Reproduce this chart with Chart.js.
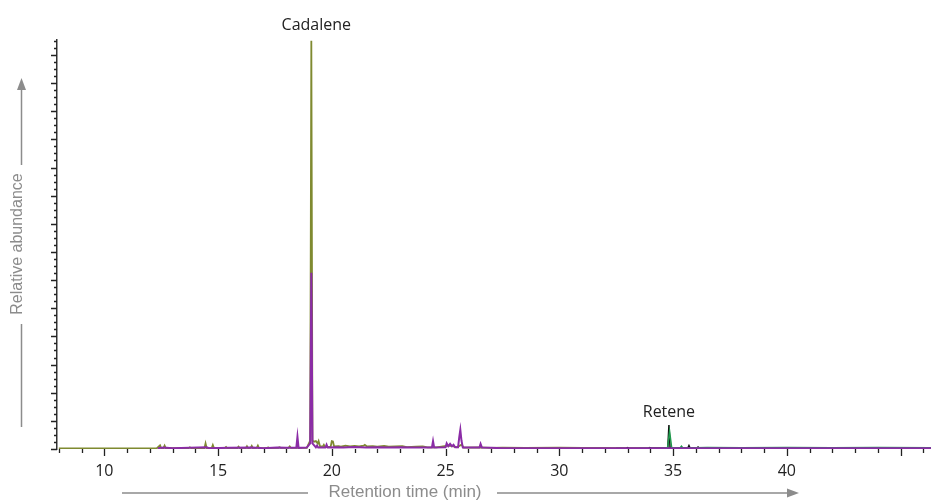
<!DOCTYPE html>
<html>
<head>
<meta charset="utf-8">
<script src="https://cdn.jsdelivr.net/npm/chart.js@4.4.1/dist/chart.umd.min.js"></script>
<style>
  body { margin: 0; background: #fff; }
</style>
</head>
<body>
<canvas id="chrom" width="931" height="500"></canvas>
<script>
// retention time (min) / relative abundance
const oliveTimes = [8.0, 12.3, 12.45, 12.5, 12.6, 12.65, 12.7, 13.7, 13.76, 13.82, 14.4, 14.45, 14.5, 14.72, 14.77, 14.82,
  15.3, 15.35, 15.4, 15.85, 15.9, 15.95, 16.22, 16.27, 16.32, 16.43, 16.48, 16.53, 16.7, 16.75, 16.8, 17.15, 17.2, 17.25,
  17.65, 17.7, 17.75, 18.1, 18.15, 18.2, 18.9, 19.05, 19.1, 19.15, 19.22, 19.3, 19.38, 19.42, 19.48, 19.6, 19.65, 19.7,
  19.95, 20.0, 20.05, 20.1, 20.3, 20.4, 20.6, 20.8, 21.0, 21.2, 21.4, 21.45, 21.55, 21.8, 22.0, 22.3, 22.5, 22.8, 23.1,
  23.3, 23.7, 24.0, 24.2, 24.6, 25.1, 25.3, 25.5, 25.7, 25.8, 26.5, 27.0, 27.5, 28.5, 30.0, 31.0, 32.0, 33.0, 46.34];
const oliveValues = [0.02, 0.02, 0.13, 0.03, 0.03, 0.12, 0.03, 0.03, 0.06, 0.03, 0.03, 0.2, 0.03, 0.03, 0.14, 0.03,
  0.04, 0.07, 0.03, 0.03, 0.08, 0.03, 0.03, 0.1, 0.03, 0.04, 0.11, 0.03, 0.04, 0.12, 0.03, 0.03, 0.06, 0.03,
  0.04, 0.06, 0.04, 0.04, 0.09, 0.04, 0.04, 0.3, 14.5, 0.3, 0.26, 0.28, 0.2, 0.28, 0.1, 0.08, 0.15, 0.07,
  0.08, 0.28, 0.27, 0.09, 0.1, 0.08, 0.12, 0.09, 0.11, 0.09, 0.12, 0.15, 0.09, 0.1, 0.08, 0.11, 0.08, 0.09, 0.1,
  0.07, 0.08, 0.09, 0.06, 0.06, 0.12, 0.1, 0.06, 0.15, 0.05, 0.06, 0.04, 0.05, 0.04, 0.05, 0.04, 0.04, 0.03, 0.03];

const purpleTimes = [12.35, 12.6, 13.0, 14.5, 14.6, 15.5, 16.5, 17.0, 17.6, 18.0, 18.44, 18.49, 18.54, 18.9, 19.05, 19.1,
  19.15, 19.3, 19.35, 19.4, 19.72, 19.77, 19.82, 20.2, 20.5, 21.0, 21.5, 22.0, 22.5, 23.0, 23.5, 24.0, 24.4, 24.45, 24.5,
  25.0, 25.05, 25.12, 25.2, 25.28, 25.35, 25.42, 25.55, 25.6, 25.65, 25.7, 25.76, 26.49, 26.54, 26.6, 27.0, 27.5, 46.34];
const purpleValues = [0.03, 0.05, 0.03, 0.06, 0.03, 0.04, 0.05, 0.03, 0.05, 0.04, 0.04, 0.44, 0.04, 0.05, 0.2, 6.26,
  0.2, 0.06, 0.12, 0.05, 0.05, 0.15, 0.05, 0.06, 0.05, 0.07, 0.05, 0.06, 0.05, 0.06, 0.05, 0.05, 0.05, 0.28, 0.05,
  0.06, 0.2, 0.1, 0.18, 0.1, 0.15, 0.06, 0.06, 0.4, 0.68, 0.3, 0.05, 0.05, 0.18, 0.05, 0.04, 0.03, 0.03];

const blackTimes = [32.5, 32.95, 33.0, 33.05, 33.93, 33.98, 34.05, 34.3, 34.77, 34.82, 34.87, 35.65, 35.7, 35.75,
  36.05, 36.1, 36.15, 37.0, 39.0, 40.0];
const blackValues = [0.02, 0.02, 0.05, 0.02, 0.02, 0.05, 0.03, 0.03, 0.03, 0.85, 0.03, 0.03, 0.12, 0.03,
  0.03, 0.07, 0.03, 0.03, 0.04, 0.03];

const greenTimes = [33.5, 34.6, 34.76, 34.85, 34.94, 35.3, 35.37, 35.44, 36.0, 36.5, 38.0, 40.0, 42.0, 44.0, 46.34];
const greenValues = [0.02, 0.03, 0.05, 0.62, 0.05, 0.03, 0.1, 0.03, 0.04, 0.05, 0.04, 0.05, 0.04, 0.05, 0.04];

const xLabels = [10, 15, 20, 25, 30, 35, 40];
const peakNames = [
  { name: "Cadalene", time: 19.1, value: 14.5 },
  { name: "Retene", time: 34.82, value: 0.85 }
];

function toPoints(times, values) {
  return times.map((t, i) => ({ x: t, y: values[i] }));
}

const decorations = {
  id: "decorations",
  afterDraw(chart) {
    const ctx = chart.ctx;
    const xs = chart.scales.x;
    const ys = chart.scales.y;
    const area = chart.chartArea;
    ctx.save();

    // tick marks
    ctx.strokeStyle = "#222";
    ctx.lineWidth = 1.3;
    ctx.beginPath();
    for (let t = 8; t <= 46; t++) {
      const px = Math.round(xs.getPixelForValue(t)) + 0.5;
      const len = t % 5 === 0 ? 7 : 4;
      ctx.moveTo(px, area.bottom);
      ctx.lineTo(px, area.bottom + len);
    }
    for (let v = 0; v <= 14.5; v += 0.25) {
      const py = Math.round(ys.getPixelForValue(v)) + 0.5;
      const len = v % 1 === 0 ? 6 : 3;
      ctx.moveTo(area.left - len, py);
      ctx.lineTo(area.left, py);
    }
    ctx.stroke();

    // peak names
    ctx.fillStyle = "#222";
    ctx.font = '16px "Open Sans"';
    ctx.textAlign = "center";
    ctx.textBaseline = "bottom";
    peakNames.forEach((p, i) => {
      const px = xs.getPixelForValue(p.time) + (i === 0 ? 5 : 0);
      const py = ys.getPixelForValue(p.value) - (i === 0 ? 7 : 5);
      ctx.fillText(p.name, px, py);
    });

    // axis titles with arrows
    const grey = "#8c8c8c";
    ctx.fillStyle = grey;
    ctx.strokeStyle = grey;
    ctx.lineWidth = 1.5;
    ctx.textBaseline = "middle";

    ctx.font = '17px "Liberation Sans"';
    ctx.fillText("Retention time (min)", 405, 492);
    ctx.beginPath();
    ctx.moveTo(122, 493);
    ctx.lineTo(308, 493);
    ctx.moveTo(497, 493);
    ctx.lineTo(790, 493);
    ctx.stroke();
    ctx.beginPath();
    ctx.moveTo(799, 493);
    ctx.lineTo(787, 488.5);
    ctx.lineTo(787, 497.5);
    ctx.closePath();
    ctx.fill();

    ctx.font = '16px "Liberation Sans"';
    ctx.save();
    ctx.translate(18, 244);
    ctx.rotate(-Math.PI / 2);
    ctx.fillText("Relative abundance", 0, 0);
    ctx.restore();
    ctx.beginPath();
    ctx.moveTo(21.5, 324);
    ctx.lineTo(21.5, 427);
    ctx.moveTo(21.5, 165);
    ctx.lineTo(21.5, 87);
    ctx.stroke();
    ctx.beginPath();
    ctx.moveTo(21.5, 78);
    ctx.lineTo(17, 90);
    ctx.lineTo(26, 90);
    ctx.closePath();
    ctx.fill();

    ctx.restore();
  }
};

new Chart(document.getElementById("chrom"), {
  type: "line",
  data: {
    datasets: [
      { label: "m/z 183", data: toPoints(purpleTimes, purpleValues), borderColor: "#8b2ca6", borderWidth: 2, order: 0 },
      { label: "m/z 219", data: toPoints(greenTimes, greenValues), borderColor: "#1f9a4c", borderWidth: 1.5, order: 1 },
      { label: "m/z 234", data: toPoints(blackTimes, blackValues), borderColor: "#111111", borderWidth: 1.5, order: 2 },
      { label: "m/z 156", data: toPoints(oliveTimes, oliveValues), borderColor: "#7f8a30", borderWidth: 1.8, order: 3 }
    ]
  },
  options: {
    responsive: false,
    animation: false,
    layout: { padding: { left: 57, top: 40, right: 0, bottom: 0 } },
    elements: { point: { radius: 0 }, line: { tension: 0 } },
    plugins: { legend: { display: false }, tooltip: { enabled: false } },
    scales: {
      x: {
        type: "linear",
        min: 7.92,
        max: 46.34,
        afterFit: (s) => { s.height = 51; },
        afterBuildTicks: (s) => {
          s.ticks = xLabels.map((v) => ({ value: v }));
        },
        grid: { display: false, drawTicks: false },
        border: { display: false },
        ticks: {
          autoSkip: false,
          maxRotation: 0,
          padding: 13,
          color: "#222",
          font: { family: "Open Sans", size: 16 }
        }
      },
      y: {
        min: 0,
        max: 14.53,
        afterFit: (s) => { s.width = 0; },
        grid: { display: false, drawTicks: false },
        border: { display: true, color: "#333", width: 1.5 },
        ticks: { display: false }
      }
    }
  },
  plugins: [decorations]
});
</script>
</body>
</html>
